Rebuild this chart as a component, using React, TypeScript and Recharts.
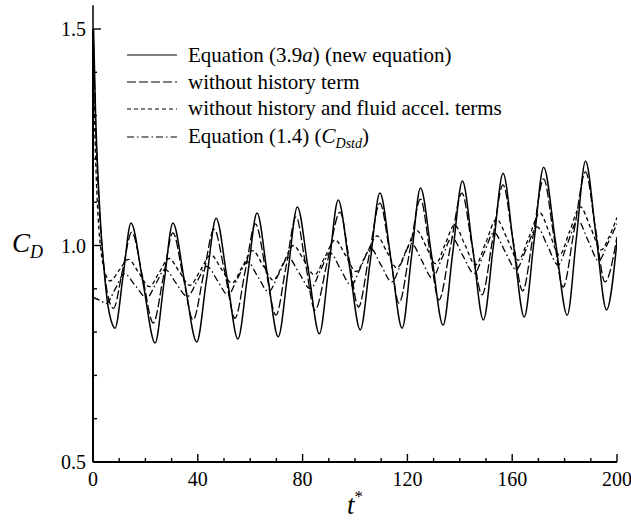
import React from 'react';
import { LineChart, Line, XAxis, YAxis, ReferenceLine, Legend } from 'recharts';

// ---- data ----
// Equation (3.9a) (new equation) — solid
const solidT = [0, 1, 2, 3, 4, 5.5, 7, 8.4, 11.5, 14.5, 19.1, 23.7, 27.1, 30.5, 35, 39.6, 43.3, 47, 51.2, 55.3, 59, 62.6, 66.6, 70.7, 74.4, 78, 82.2, 86.4, 90, 93.6, 97.8, 102, 105.8, 109.5, 113.8, 118, 121.5, 125, 129.3, 133.6, 137.3, 141, 145, 149, 152.8, 156.5, 160.5, 164.6, 168.3, 172, 176.5, 181, 184.5, 188, 192, 196, 200];
const solidV = [1.555, 1.3, 1.15, 1.04, 0.96, 0.87, 0.825, 0.809, 0.93, 1.052, 0.914, 0.775, 0.914, 1.052, 0.915, 0.777, 0.92, 1.063, 0.924, 0.784, 0.93, 1.075, 0.932, 0.789, 0.939, 1.089, 0.943, 0.796, 0.95, 1.105, 0.955, 0.805, 0.963, 1.121, 0.965, 0.809, 0.971, 1.133, 0.975, 0.816, 0.983, 1.149, 0.989, 0.828, 0.998, 1.167, 1.001, 0.835, 1.008, 1.181, 1.01, 0.839, 1.017, 1.195, 1.023, 0.851, 1.01];

// without history term — long dashed
const noHistT = [0, 1, 2, 3, 4, 5.5, 7.8, 11.3, 14.8, 19, 23, 26.8, 30.5, 34.4, 38.2, 42.2, 46.2, 50.2, 54.2, 58.1, 62, 65.9, 69.8, 73.7, 77.5, 81.1, 84.7, 89.5, 94.3, 97.8, 101.3, 105.4, 109.5, 113.2, 116.8, 120.9, 125, 128.5, 132, 136.4, 140.8, 144.6, 148.5, 152.5, 156.5, 160.2, 164, 168, 172, 175.7, 179.4, 183.7, 188, 191.7, 195.4, 200];
const noHistV = [1.52, 1.28, 1.13, 1.03, 0.96, 0.89, 0.855, 0.943, 1.031, 0.925, 0.821, 0.925, 1.029, 0.928, 0.828, 0.933, 1.038, 0.941, 0.832, 0.941, 1.05, 0.945, 0.839, 0.952, 1.066, 0.958, 0.851, 0.964, 1.077, 0.968, 0.858, 0.978, 1.098, 0.987, 0.867, 0.987, 1.107, 0.99, 0.874, 0.997, 1.121, 1.003, 0.886, 1.013, 1.14, 1.017, 0.895, 1.024, 1.154, 1.029, 0.904, 1.037, 1.17, 1.043, 0.916, 1.02];

// without history and fluid accel. terms — short dashed
const noHistAccT = [0, 1, 2, 3, 4.5, 6.5, 10, 13.5, 17.5, 21.5, 25.3, 29, 33, 37, 41, 45, 49, 53, 57, 61, 64.9, 68.8, 72.7, 76.5, 80.5, 84.5, 88.5, 92.4, 96.4, 100.4, 104.4, 108.4, 112.2, 116, 119.8, 123.5, 127.2, 130.8, 134.4, 138, 142, 146, 150, 154, 158.2, 162.3, 166.5, 170.6, 174.3, 178, 182, 186, 190, 194, 197, 200];
const noHistAccV = [1.45, 1.2, 1.06, 0.99, 0.94, 0.918, 0.943, 0.968, 0.937, 0.905, 0.938, 0.97, 0.939, 0.908, 0.943, 0.978, 0.946, 0.913, 0.951, 0.988, 0.954, 0.92, 0.96, 1.0, 0.966, 0.932, 0.973, 1.013, 0.977, 0.94, 0.981, 1.022, 0.985, 0.948, 0.992, 1.035, 0.997, 0.958, 1.003, 1.047, 1.001, 0.955, 1.008, 1.061, 1.014, 0.966, 1.021, 1.075, 1.027, 0.978, 1.034, 1.089, 1.04, 0.99, 1.02, 1.065];

// Equation (1.4) (C_Dstd) — dash-dot
const stdT = [0, 2.5, 5, 8.5, 12, 16.2, 20.5, 24, 27.5, 31.7, 36, 39.7, 43.5, 47.5, 51.5, 55.2, 59, 63, 67, 70.7, 74.5, 78.7, 83, 86.7, 90.5, 94.5, 98.5, 102.2, 106, 110, 114, 117.7, 121.5, 125.5, 129.5, 133.2, 137, 141.2, 145.5, 149.2, 153, 157.2, 161.5, 165.5, 169.5, 173.5, 177.5, 181.2, 185, 189, 193, 196.5, 200];
const stdV = [0.88, 0.874, 0.866, 0.9, 0.935, 0.907, 0.879, 0.912, 0.945, 0.913, 0.882, 0.917, 0.952, 0.919, 0.886, 0.924, 0.962, 0.927, 0.893, 0.932, 0.972, 0.936, 0.9, 0.941, 0.983, 0.945, 0.908, 0.95, 0.993, 0.954, 0.916, 0.96, 1.005, 0.965, 0.925, 0.971, 1.018, 0.976, 0.935, 0.982, 1.03, 0.987, 0.945, 0.994, 1.043, 0.999, 0.955, 1.006, 1.058, 1.011, 0.965, 1.005, 1.05];

// axes
const xDomain = [0, 200];
const yDomain = [0.5, 1.5];
const xTicks = [0, 10, 20, 30, 40, 50, 60, 70, 80, 90, 100, 110, 120, 130, 140, 150, 160, 170, 180, 190, 200];
const xLabels = [0, 40, 80, 120, 160, 200];
const yTicks = [0.5, 0.6, 0.7, 0.8, 0.9, 1.0, 1.1, 1.2, 1.3, 1.4, 1.5];
const yLabels = ['0.5', '1.0', '1.5'];

const FONT = 'Liberation Serif, Times New Roman, DejaVu Serif, serif';

const rows = (t: number[], v: number[]) => t.map((x, i) => ({ t: x, v: v[i] }));
const solidData = rows(solidT, solidV);
const noHistData = rows(noHistT, noHistV);
const noHistAccData = rows(noHistAccT, noHistAccV);
const stdData = rows(stdT, stdV);

const DASH_LONG = '9 3';
const DASH_SHORT = '4 3';
const DASH_DOT = '7 3 1.5 3';

const MAJ = 8;
const MIN = 4;

const txt = { fontFamily: FONT, fill: '#000' } as React.CSSProperties;

const BottomTick = (p: any) => {
  const { x, y, payload } = p;
  const v = payload.value;
  const major = xLabels.includes(v);
  return (
    <g>
      <line x1={x} x2={x} y1={y} y2={y - (major ? MAJ : MIN)} stroke="#000" strokeWidth={1.4} />
      {major && (
        <text x={x} y={y + 24} textAnchor="middle" style={{ ...txt, fontSize: 20 }}>
          {v}
        </text>
      )}
    </g>
  );
};

const TopTick = (p: any) => {
  const { x, y, payload } = p;
  const major = xLabels.includes(payload.value);
  return <line x1={x} x2={x} y1={y} y2={y + (major ? MAJ : MIN)} stroke="#000" strokeWidth={1.4} />;
};

const LeftTick = (p: any) => {
  const { x, y, payload } = p;
  const s = Number(payload.value).toFixed(1);
  const major = yLabels.includes(s);
  return (
    <g>
      <line x1={x} x2={x + (major ? MAJ : MIN)} y1={y} y2={y} stroke="#000" strokeWidth={1.4} />
      {major && (
        <text x={x - 7} y={y + 7} textAnchor="end" style={{ ...txt, fontSize: 20 }}>
          {s}
        </text>
      )}
    </g>
  );
};

const RightTick = (p: any) => {
  const { x, y, payload } = p;
  const major = yLabels.includes(Number(payload.value).toFixed(1));
  return <line x1={x} x2={x - (major ? MAJ : MIN)} y1={y} y2={y} stroke="#000" strokeWidth={1.4} />;
};

const legendItems = [
  { key: 'solid', dash: undefined as string | undefined },
  { key: 'noHist', dash: DASH_LONG },
  { key: 'noHistAcc', dash: DASH_SHORT },
  { key: 'std', dash: DASH_DOT },
];

const LegendBox = () => {
  const lineY = [17, 44, 71, 99];
  const textY = [24, 51, 77, 105];
  const labels = [
    <>
      Equation (3.9<tspan style={{ fontStyle: 'italic' }}>a</tspan>) (new equation)
    </>,
    <>without history term</>,
    <>without history and fluid accel. terms</>,
    <>
      Equation (1.4) (<tspan style={{ fontStyle: 'italic' }}>C</tspan>
      <tspan style={{ fontStyle: 'italic', fontSize: 14 }} dy={5}>Dstd</tspan>
      <tspan dy={-5}>)</tspan>
    </>,
  ];
  return (
    <svg width={440} height={115} style={{ overflow: 'visible', display: 'block' }}>
      {legendItems.map((it, i) => (
        <g key={it.key}>
          <line x1={19} x2={69} y1={lineY[i]} y2={lineY[i]} stroke="#000" strokeWidth={1.2} strokeDasharray={it.dash} />
          <text x={80} y={textY[i]} style={{ ...txt, fontSize: 21 }}>
            {labels[i]}
          </text>
        </g>
      ))}
    </svg>
  );
};

export default function App() {
  return (
    <div style={{ fontFamily: FONT, position: 'absolute', left: 0, top: 0, width: 631, height: 522, overflow: 'visible' }}>
      <style>{'html{overflow:hidden}.recharts-wrapper,.recharts-surface{overflow:visible}'}</style>
      <LineChart
        width={631}
        height={522}
        margin={{ top: 29, right: 14, left: 8, bottom: 8 }}
      >
        <XAxis
          xAxisId="b"
          dataKey="t"
          type="number"
          domain={xDomain}
          ticks={xTicks}
          interval={0}
          allowDataOverflow
          height={52}
          tickSize={0}
          tickMargin={0}
          tickLine={false}
          axisLine={{ stroke: '#000', strokeWidth: 2 }}
          tick={(p: any) => <BottomTick {...p} />}
          label={{
            content: () => (
              <text x={347} y={514} style={{ ...txt, fontSize: 27, fontStyle: 'italic' }}>
                t<tspan style={{ fontSize: 17, fontStyle: 'normal' }} dy={-12}>*</tspan>
              </text>
            ),
          }}
        />
        <XAxis
          xAxisId="top"
          orientation="top"
          dataKey="t"
          type="number"
          domain={xDomain}
          ticks={xTicks}
          interval={0}
          allowDataOverflow
          height={0}
          tickSize={0}
          tickMargin={0}
          tickLine={false}
          axisLine={{ stroke: '#000', strokeWidth: 2 }}
          tick={(p: any) => <TopTick {...p} />}
        />
        <YAxis
          yAxisId="l"
          type="number"
          domain={yDomain}
          ticks={yTicks}
          interval={0}
          allowDataOverflow
          width={85}
          tickSize={0}
          tickMargin={0}
          tickLine={false}
          axisLine={{ stroke: '#000', strokeWidth: 2 }}
          tick={(p: any) => <LeftTick {...p} />}
          label={{
            content: () => (
              <text x={12} y={252} style={{ ...txt, fontSize: 27, fontStyle: 'italic' }}>
                C<tspan style={{ fontSize: 18 }} dy={6}>D</tspan>
              </text>
            ),
          }}
        />
        <YAxis
          yAxisId="r"
          orientation="right"
          type="number"
          domain={yDomain}
          ticks={yTicks}
          interval={0}
          allowDataOverflow
          width={0}
          tickSize={0}
          tickMargin={0}
          tickLine={false}
          axisLine={{ stroke: '#000', strokeWidth: 2 }}
          tick={(p: any) => <RightTick {...p} />}
        />
        <Line xAxisId="b" yAxisId="l" data={stdData} dataKey="v" type="monotone" stroke="#000" strokeWidth={1.3} strokeDasharray={DASH_DOT} dot={false} activeDot={false} isAnimationActive={false} />
        <Line xAxisId="b" yAxisId="l" data={noHistAccData} dataKey="v" type="monotone" stroke="#000" strokeWidth={1.3} strokeDasharray={DASH_SHORT} dot={false} activeDot={false} isAnimationActive={false} />
        <Line xAxisId="b" yAxisId="l" data={noHistData} dataKey="v" type="monotone" stroke="#000" strokeWidth={1.3} strokeDasharray={DASH_LONG} dot={false} activeDot={false} isAnimationActive={false} />
        <Line xAxisId="b" yAxisId="l" data={solidData} dataKey="v" type="monotone" stroke="#000" strokeWidth={1.5} dot={false} activeDot={false} isAnimationActive={false} />
        <ReferenceLine
          xAxisId="b"
          yAxisId="l"
          segment={[{ x: solidT[0], y: yDomain[1] }, { x: solidT[0], y: solidV[0] }]}
          stroke="#000"
          strokeWidth={1.5}
          ifOverflow="visible"
        />
        <Legend
          layout="vertical"
          align="center"
          verticalAlign="middle"
          content={() => <LegendBox />}
          wrapperStyle={{ left: 108, top: 38, width: 440, height: 115 }}
        />
      </LineChart>
    </div>
  );
}
